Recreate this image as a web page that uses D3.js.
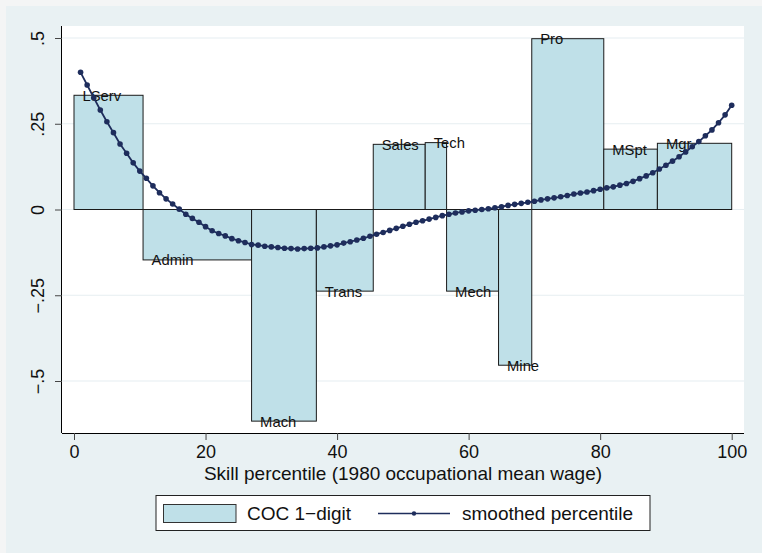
<!DOCTYPE html>
<html>
<head>
<meta charset="utf-8">
<script src="https://cdn.jsdelivr.net/npm/d3@7"></script>
<style>
  html, body { margin: 0; padding: 0; background: #f4f5f5; }
  svg { display: block; }
  text { font-family: "Liberation Sans", Arial, Helvetica, sans-serif; fill: #111; }
</style>
</head>
<body>
<svg id="chart" width="762" height="553"></svg>
<script>
// ---------- data ----------
const categories = ["LServ","Admin","Mach","Trans","Sales","Tech","Mech","Mine","Pro","MSpt","Mgr"];
const barStart   = [0, 10.5, 27.0, 36.85, 45.5, 53.4, 56.65, 64.55, 69.6, 80.55, 88.7];
const barEnd     = [10.5, 27.0, 36.85, 45.5, 53.4, 56.65, 64.55, 69.6, 80.55, 88.7, 100];
const barValue   = [0.333, -0.147, -0.617, -0.238, 0.190, 0.195, -0.238, -0.454, 0.498, 0.176, 0.193];

const smoothX = [1,2,3,4,5,6,7,8,9,10,11,12,13,14,15,16,17,18,19,20,
  21,22,23,24,25,26,27,28,29,30,31,32,33,34,35,36,37,38,39,40,
  41,42,43,44,45,46,47,48,49,50,51,52,53,54,55,56,57,58,59,60,
  61,62,63,64,65,66,67,68,69,70,71,72,73,74,75,76,77,78,79,80,
  81,82,83,84,85,86,87,88,89,90,91,92,93,94,95,96,97,98,99,100];
const smoothY = [0.400,0.363,0.326,0.290,0.256,0.224,0.191,0.164,0.136,0.112,
  0.091,0.069,0.049,0.031,0.016,0.001,-0.014,-0.026,-0.037,-0.050,
  -0.062,-0.070,-0.077,-0.085,-0.091,-0.096,-0.102,-0.104,-0.107,-0.109,
  -0.111,-0.113,-0.114,-0.115,-0.114,-0.113,-0.112,-0.109,-0.106,-0.103,
  -0.098,-0.094,-0.089,-0.084,-0.078,-0.072,-0.067,-0.061,-0.055,-0.049,
  -0.043,-0.037,-0.033,-0.028,-0.023,-0.018,-0.014,-0.010,-0.007,-0.004,
  -0.002,0.000,0.002,0.005,0.008,0.012,0.015,0.018,0.021,0.024,
  0.028,0.031,0.034,0.037,0.041,0.045,0.048,0.051,0.055,0.059,
  0.063,0.066,0.071,0.076,0.082,0.090,0.098,0.107,0.118,0.129,
  0.141,0.154,0.168,0.183,0.198,0.215,0.232,0.253,0.276,0.304];

const xTicks = [0, 20, 40, 60, 80, 100];
const yTicks = [-0.5, -0.25, 0, 0.25, 0.5];
const yTickLabels = ["\u2212.5", "\u2212.25", "0", ".25", ".5"];
const xTitle = "Skill percentile (1980 occupational mean wage)";
const legendLabels = ["COC 1\u2212digit", "smoothed percentile"];

// ---------- layout ----------
const svg = d3.select("#chart");
const plot = {left: 62, right: 744, top: 26, bottom: 433};
const barFill = "#bfe0e8";
const lineColor = "#1e2d5c";

const x = d3.scaleLinear().domain([0, 100]).range([74, 731.7]);
const y = d3.scaleLinear().domain([-0.5, 0.5]).range([381, 38]);

// graph region
svg.append("rect").attr("x", 6).attr("y", 6).attr("width", 756).attr("height", 547).attr("fill", "#e9f1f3");
// plot region
svg.append("rect").attr("x", plot.left).attr("y", plot.top)
  .attr("width", plot.right - plot.left).attr("height", plot.bottom - plot.top).attr("fill", "#ffffff");

// grid lines
svg.append("g").selectAll("line").data(yTicks).join("line")
  .attr("x1", plot.left).attr("x2", plot.right)
  .attr("y1", d => y(d)).attr("y2", d => y(d))
  .attr("stroke", "#e6eef1").attr("stroke-width", 1.2);

// bars
const bars = categories.map((c, i) => ({c, s: barStart[i], e: barEnd[i], v: barValue[i]}));
svg.append("g").selectAll("rect").data(bars).join("rect")
  .attr("x", d => x(d.s))
  .attr("width", d => x(d.e) - x(d.s))
  .attr("y", d => Math.min(y(d.v), y(0)))
  .attr("height", d => Math.abs(y(d.v) - y(0)))
  .attr("fill", barFill).attr("stroke", "#1a1a1a").attr("stroke-width", 1);

// bar labels
svg.append("g").selectAll("text").data(bars).join("text")
  .attr("x", d => x(d.s) + 8.5)
  .attr("y", d => y(d.v) + 5.4)
  .attr("font-size", "14.8px")
  .text(d => d.c);

// smoothed line
const pts = smoothX.map((xv, i) => [xv, smoothY[i]]);
svg.append("path").datum(pts)
  .attr("d", d3.line().x(d => x(d[0])).y(d => y(d[1])))
  .attr("fill", "none").attr("stroke", lineColor).attr("stroke-width", 1.8);
svg.append("g").selectAll("circle").data(pts).join("circle")
  .attr("cx", d => x(d[0])).attr("cy", d => y(d[1])).attr("r", 2.8)
  .attr("fill", lineColor);

// axes
const xAxis = svg.append("g").attr("transform", `translate(0,${plot.bottom})`)
  .call(d3.axisBottom(x).tickValues(xTicks).tickSize(7).tickSizeOuter(0).tickPadding(6));
xAxis.select(".domain").attr("d", `M${plot.left},0.5H${plot.right}`).attr("stroke", "#000");
xAxis.selectAll(".tick line").attr("stroke", "#444");
xAxis.selectAll(".tick text").attr("font-size", "18px").attr("fill", "#111")
  .attr("dy", null).attr("y", 25);

const yAxis = svg.append("g").attr("transform", `translate(${plot.left},0)`)
  .call(d3.axisLeft(y).tickValues(yTicks).tickFormat((d, i) => yTickLabels[i]).tickSize(7).tickSizeOuter(0));
yAxis.select(".domain").attr("d", `M-0.5,${plot.top}V${plot.bottom}`).attr("stroke", "#000");
yAxis.selectAll(".tick line").attr("stroke", "#444");
yAxis.selectAll(".tick text")
  .attr("font-size", "18px").attr("fill", "#111")
  .attr("x", null).attr("dy", null)
  .attr("text-anchor", "middle")
  .attr("transform", "translate(-18.5,0) rotate(-90)");

// x title
svg.append("text").attr("x", (plot.left + plot.right) / 2).attr("y", 480)
  .attr("text-anchor", "middle").attr("font-size", "19px").text(xTitle);

// legend
const lg = svg.append("g");
lg.append("rect").attr("x", 156).attr("y", 495.5).attr("width", 494).attr("height", 35)
  .attr("fill", "#fff").attr("stroke", "#222").attr("stroke-width", 1);
lg.append("rect").attr("x", 163.5).attr("y", 504.5).attr("width", 72.5).attr("height", 18)
  .attr("fill", barFill).attr("stroke", "#333").attr("stroke-width", 1);
lg.append("text").attr("x", 247).attr("y", 520).attr("font-size", "19px").text(legendLabels[0]);
lg.append("line").attr("x1", 378).attr("x2", 450).attr("y1", 513.5).attr("y2", 513.5)
  .attr("stroke", lineColor).attr("stroke-width", 1.5);
lg.append("circle").attr("cx", 414).attr("cy", 513.5).attr("r", 2.2).attr("fill", lineColor);
lg.append("text").attr("x", 462).attr("y", 520).attr("font-size", "19px").text(legendLabels[1]);
</script>
</body>
</html>
